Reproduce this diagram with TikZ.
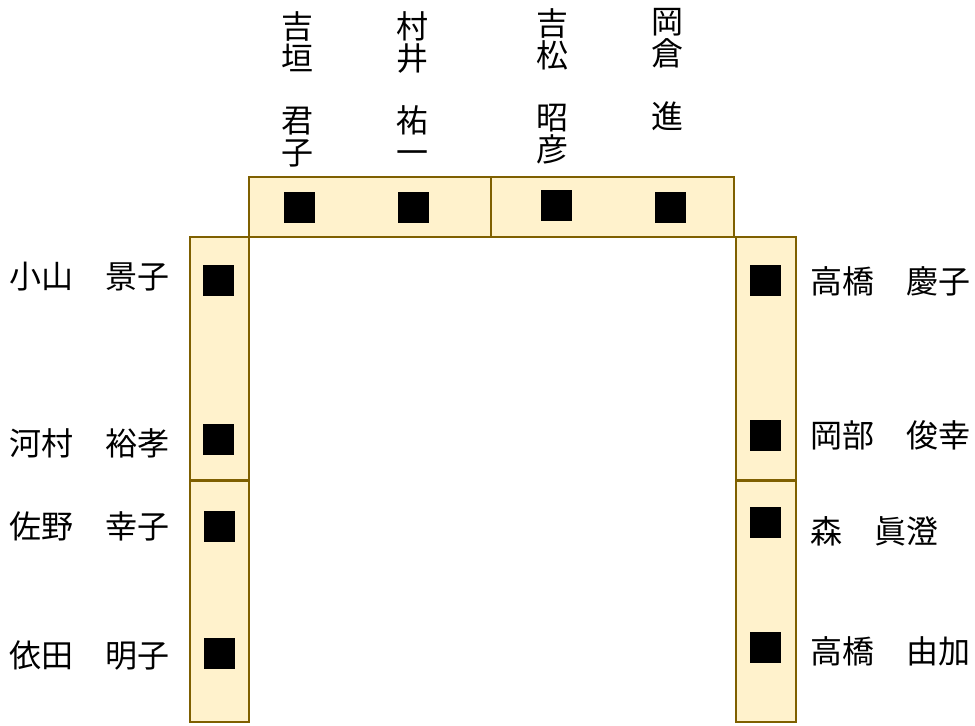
\documentclass[tikz,border=0pt]{standalone}
\usepackage{fontspec}
\setmainfont{Noto Sans CJK JP}
\usetikzlibrary{positioning}
\definecolor{deskline}{RGB}{127,96,0}
\definecolor{deskfill}{RGB}{255,242,204}

\begin{document}
\begin{tikzpicture}[x=0.75pt,y=-0.75pt,
  desk/.style={draw=deskline,fill=deskfill,line width=2.2pt},
  seat/.style={fill=black,inner sep=0pt,minimum size=23.25pt},
  guest/.style={inner sep=0pt,anchor=west,font=\fontsize{24pt}{24pt}\selectfont},
  guestv/.style={inner sep=0pt,anchor=north,align=center,font=\fontsize{24pt}{24pt}\selectfont}]
\useasboundingbox (0,0) rectangle (975,725);

% Tables
\draw[desk] (249,177) rectangle (491,237);
\draw[desk] (491,177) rectangle (734,237);
\draw[desk] (190,237) rectangle (249,480);
\draw[desk] (190,481) rectangle (249,722);
\draw[desk] (736,237) rectangle (796,480);
\draw[desk] (736,481) rectangle (796,722);

% Seats
\node[seat] (t1) at (299.5,207.5) {};
\node[seat] (t2) at (413.5,207.5) {};
\node[seat] (t3) at (556.5,205.5) {};
\node[seat] (t4) at (670.5,207.5) {};
\node[seat] (l1) at (218.5,280.5) {};
\node[seat] (l2) at (218.5,439.5) {};
\node[seat] (l3) at (219.5,526.5) {};
\node[seat] (l4) at (219.5,653.5) {};
\node[seat] (r1) at (765.5,280.5) {};
\node[seat] (r2) at (765.5,435.5) {};
\node[seat] (r3) at (765.5,522.5) {};
\node[seat] (r4) at (765.5,647.5) {};

% Guests, top
\node[guestv] (gt1) at (297,11) {吉\\垣\\[23pt]君\\子};
\node[guestv] (gt2) at (412,11) {村\\井\\[23pt]祐\\一};
\node[guestv] (gt3) at (552,8) {吉\\松\\[23pt]昭\\彦};
\node[guestv] (gt4) at (667,8) {岡\\倉\\[23pt]進};

% Guests, left
\node[guest] (gl1) at (9,277) {小山　景子};
\node[guest] (gl2) at (9,443) {河村　裕孝};
\node[guest] (gl3) at (9,526) {佐野　幸子};
\node[guest] (gl4) at (9,655) {依田　明子};

% Guests, right
\node[guest] (gr1) at (810,281) {高橋　慶子};
\node[guest] (gr2) at (810,435) {岡部　俊幸};
\node[guest] (gr3) at (810,531) {森　眞澄};
\node[guest] (gr4) at (810,651) {高橋　由加};
\end{tikzpicture}
\end{document}
